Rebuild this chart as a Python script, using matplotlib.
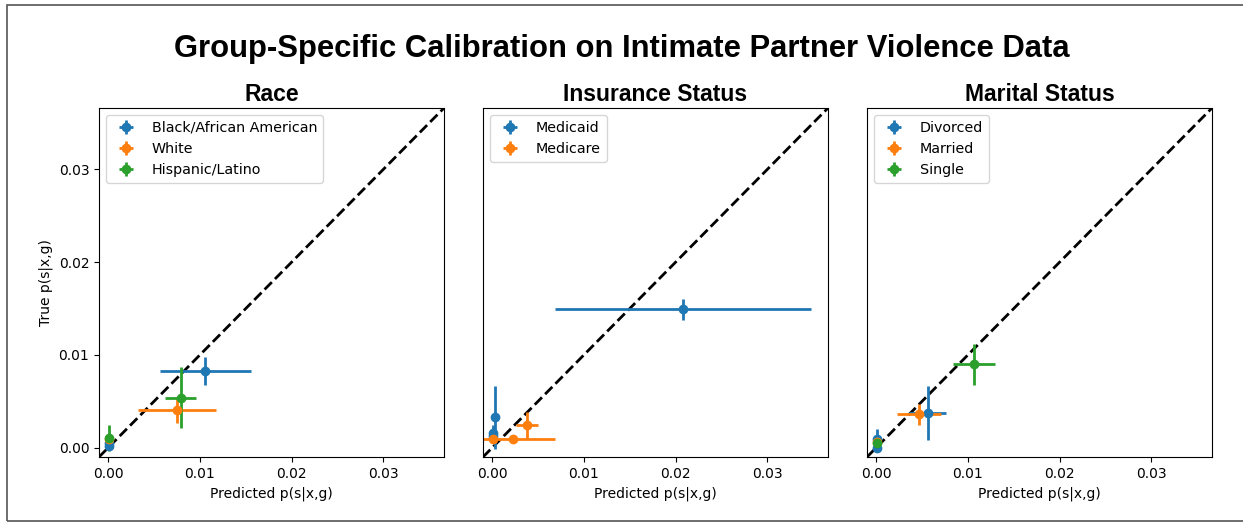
import numpy as np
import matplotlib
matplotlib.use('Agg')
import matplotlib.pyplot as plt
from matplotlib.patches import Rectangle

# Race
race_groups = ['Black/African American', 'White', 'Hispanic/Latino']
race_pred = [[0.0001, 0.0001, 0.0106], [0.0001, 0.0075], [0.0001, 0.0079]]
race_true = [[0.0002, 0.0005, 0.0083], [0.0009, 0.0041], [0.0010, 0.0054]]
race_xerr = [[0.0001, 0.0001, 0.0050], [0.0001, 0.0042], [0.0001, 0.0017]]
race_yerr = [[0.0003, 0.0004, 0.0015], [0.0005, 0.0014], [0.0014, 0.0033]]

# Insurance
ins_groups = ['Medicaid', 'Medicare']
ins_pred = [[0.0001, 0.0001, 0.0003, 0.0208], [0.0001, 0.0023, 0.0038]]
ins_true = [[0.0013, 0.0016, 0.0033, 0.0149], [0.0009, 0.0009, 0.0024]]
ins_xerr = [[0.0001, 0.0001, 0.0002, 0.0140], [0.0001, 0.0046, 0.0012]]
ins_yerr = [[0.0008, 0.0008, 0.0034, 0.0011], [0.0004, 0.0003, 0.0015]]

# Marital
mar_groups = ['Divorced', 'Married', 'Single']
mar_pred = [[0.0001, 0.0001, 0.0056], [0.0001, 0.0047], [0.0001, 0.0107]]
mar_true = [[0.0000, 0.0009, 0.0037], [0.0006, 0.0036], [0.0005, 0.0090]]
mar_xerr = [[0.0001, 0.0001, 0.0020], [0.0004, 0.0024], [0.0001, 0.0023]]
mar_yerr = [[0.0003, 0.0011, 0.0029], [0.0002, 0.0011], [0.0002, 0.0022]]

panels = [
    ('Race', race_groups, race_pred, race_true, race_xerr, race_yerr),
    ('Insurance Status', ins_groups, ins_pred, ins_true, ins_xerr, ins_yerr),
    ('Marital Status', mar_groups, mar_pred, mar_true, mar_xerr, mar_yerr),
]
colors = ['#1f77b4', '#ff7f0e', '#2ca02c']

W, H = 1243, 523
fig = plt.figure(figsize=(W / 100, H / 100), dpi=100)
fig.patches.append(Rectangle((7 / W, 2 / H), 1.0, 1 - 7 / H, transform=fig.transFigure,
                             fill=False, edgecolor='#555555', linewidth=1.2))

lefts = [99, 483, 867]
lims = (-0.001, 0.0366)
for i, (title, groups, pred, true, xerr, yerr) in enumerate(panels):
    ax = fig.add_axes([lefts[i] / W, (H - 457) / H, 345 / W, 349 / H])
    ax.plot(lims, lims, 'k--', linewidth=2)
    for j, g in enumerate(groups):
        ax.errorbar(pred[j], true[j], xerr=xerr[j], yerr=yerr[j], fmt='o', color=colors[j],
                    markersize=6, elinewidth=2, label=g)
    ax.set_xlim(lims)
    ax.set_ylim(lims)
    ax.set_xticks([0, 0.01, 0.02, 0.03])
    ax.set_yticks([0, 0.01, 0.02, 0.03])
    ax.set_xlabel('Predicted p(s|x,g)')
    if i == 0:
        ax.set_ylabel('True p(s|x,g)')
    else:
        ax.set_yticks([])
    ax.set_title(title, fontsize=16.5, fontweight='bold', family='Liberation Sans', pad=5)
    ax.legend(loc='upper left', fontsize=10.3)

fig.text(0.5, 1 - 49 / H, 'Group-Specific Calibration on Intimate Partner Violence Data',
         ha='center', va='center', fontsize=22.3, fontweight='bold', family='Liberation Sans')

fig.savefig('out.png', dpi=100)
